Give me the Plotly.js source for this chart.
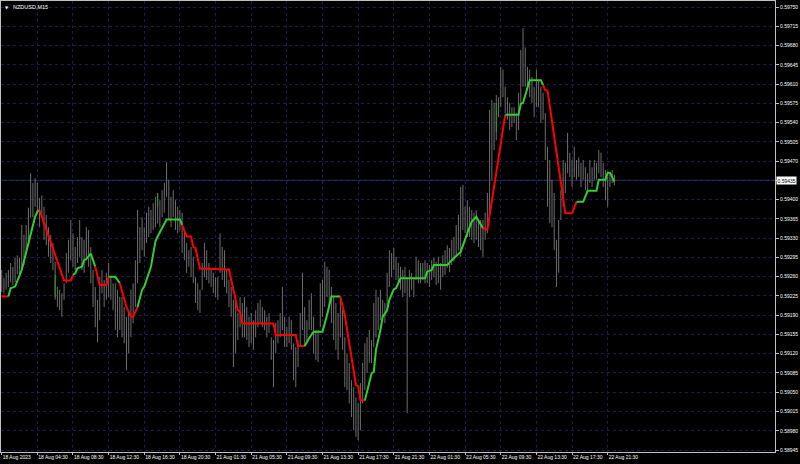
<!DOCTYPE html>
<html><head><meta charset="utf-8">
<script src="https://cdn.plot.ly/plotly-3.0.1.min.js"></script>
<style>html,body{margin:0;padding:0;background:#000;}#chart{width:800px;height:464px;}</style>
</head><body><div id="chart"></div>
<script>
const symbolTitle = "NZDUSD,M15";
const timeTickIdx = [0,16,32,48,64,80,96,112,128,144,160,176,192,208,224,240,256,272];
const timeTickText = ["18 Aug 2023","18 Aug 04:30","18 Aug 08:30","18 Aug 12:30","18 Aug 16:30","18 Aug 20:30","21 Aug 01:30","21 Aug 05:30","21 Aug 09:30","21 Aug 13:30","21 Aug 17:30","21 Aug 21:30","22 Aug 01:30","22 Aug 05:30","22 Aug 09:30","22 Aug 13:30","22 Aug 17:30","22 Aug 21:30"];
const priceTicks = [0.58945,0.58980,0.59015,0.59050,0.59085,0.59120,0.59155,0.59190,0.59225,0.59260,0.59295,0.59330,0.59365,0.59400,0.59435,0.59470,0.59505,0.59540,0.59575,0.59610,0.59645,0.59680,0.59715,0.59750];
const currentPrice = 0.59435;

// M15 bars, index 0..275: highs and lows
const barHigh = [
0.59272,0.59258,0.59267,0.59272,0.59285,0.59278,0.59294,0.59299,0.59294,0.59354,
0.59336,0.59354,0.59385,0.59448,0.59430,0.59439,0.59430,0.59403,0.59408,0.59387,
0.59372,0.59350,0.59336,0.59321,0.59287,0.59241,0.59236,0.59230,0.59248,0.59303,
0.59327,0.59363,0.59339,0.59314,0.59332,0.59363,0.59332,0.59327,0.59350,0.59345,
0.59314,0.59272,0.59241,0.59218,0.59259,0.59272,0.59254,0.59267,0.59285,0.59259,
0.59248,0.59248,0.59236,0.59223,0.59223,0.59205,0.59187,0.59199,0.59236,0.59248,
0.59290,0.59381,0.59350,0.59368,0.59350,0.59376,0.59387,0.59381,0.59394,0.59405,
0.59412,0.59399,0.59417,0.59430,0.59468,0.59436,0.59405,0.59417,0.59399,0.59387,
0.59381,0.59376,0.59345,0.59321,0.59308,0.59314,0.59296,0.59259,0.59248,0.59236,
0.59285,0.59321,0.59308,0.59285,0.59272,0.59267,0.59259,0.59259,0.59339,0.59314,
0.59308,0.59272,0.59254,0.59241,0.59218,0.59223,0.59194,0.59223,0.59212,0.59223,
0.59205,0.59187,0.59194,0.59181,0.59199,0.59212,0.59218,0.59205,0.59199,0.59187,
0.59194,0.59150,0.59145,0.59176,0.59181,0.59194,0.59241,0.59187,0.59168,0.59187,
0.59181,0.59139,0.59132,0.59145,0.59194,0.59267,0.59205,0.59181,0.59218,0.59230,
0.59187,0.59163,0.59163,0.59248,0.59254,0.59287,0.59278,0.59272,0.59241,0.59223,
0.59212,0.59194,0.59223,0.59199,0.59150,0.59121,0.59103,0.59072,0.59059,0.59041,
0.59030,0.59067,0.59103,0.59139,0.59150,0.59163,0.59145,0.59212,0.59236,0.59223,
0.59236,0.59218,0.59212,0.59267,0.59308,0.59303,0.59312,0.59296,0.59285,0.59278,
0.59272,0.59278,0.59259,0.59272,0.59267,0.59259,0.59296,0.59290,0.59285,0.59285,
0.59290,0.59285,0.59281,0.59290,0.59294,0.59287,0.59296,0.59285,0.59299,0.59308,
0.59317,0.59312,0.59327,0.59332,0.59354,0.59372,0.59423,0.59427,0.59387,0.59399,
0.59387,0.59381,0.59376,0.59381,0.59363,0.59363,0.59363,0.59376,0.59412,0.59563,
0.59581,0.59576,0.59590,0.59586,0.59641,0.59636,0.59605,0.59586,0.59576,0.59568,
0.59568,0.59557,0.59594,0.59672,0.59712,0.59677,0.59641,0.59636,0.59623,0.59605,
0.59636,0.59617,0.59605,0.59594,0.59557,0.59496,0.59472,0.59436,0.59412,0.59327,
0.59363,0.59417,0.59472,0.59467,0.59521,0.59485,0.59472,0.59496,0.59472,0.59477,
0.59467,0.59472,0.59459,0.59448,0.59472,0.59459,0.59472,0.59467,0.59490,0.59485,
0.59467,0.59454,0.59441,0.59448,0.59454,0.59445];
const barLow = [
0.59232,0.59230,0.59236,0.59241,0.59250,0.59245,0.59250,0.59265,0.59259,0.59272,
0.59281,0.59303,0.59327,0.59367,0.59368,0.59387,0.59376,0.59350,0.59368,0.59327,
0.59317,0.59296,0.59285,0.59272,0.59218,0.59205,0.59199,0.59187,0.59218,0.59248,
0.59267,0.59290,0.59278,0.59272,0.59285,0.59296,0.59272,0.59267,0.59290,0.59278,
0.59248,0.59205,0.59168,0.59141,0.59181,0.59230,0.59205,0.59218,0.59223,0.59218,
0.59199,0.59163,0.59150,0.59163,0.59150,0.59139,0.59090,0.59121,0.59150,0.59176,
0.59205,0.59248,0.59285,0.59308,0.59296,0.59321,0.59332,0.59339,0.59345,0.59350,
0.59357,0.59350,0.59368,0.59376,0.59405,0.59363,0.59350,0.59368,0.59345,0.59339,
0.59345,0.59303,0.59290,0.59267,0.59278,0.59259,0.59248,0.59212,0.59199,0.59194,
0.59236,0.59259,0.59254,0.59248,0.59241,0.59230,0.59223,0.59218,0.59267,0.59254,
0.59241,0.59230,0.59205,0.59187,0.59096,0.59121,0.59145,0.59168,0.59150,0.59150,
0.59145,0.59132,0.59139,0.59127,0.59150,0.59168,0.59176,0.59168,0.59163,0.59150,
0.59158,0.59109,0.59059,0.59121,0.59139,0.59150,0.59163,0.59132,0.59132,0.59139,
0.59127,0.59072,0.59059,0.59096,0.59132,0.59163,0.59132,0.59139,0.59163,0.59163,
0.59121,0.59109,0.59105,0.59168,0.59187,0.59205,0.59223,0.59205,0.59176,0.59145,
0.59127,0.59109,0.59150,0.59127,0.59059,0.59054,0.59030,0.59005,0.58981,0.58969,
0.58963,0.58981,0.59030,0.59054,0.59085,0.59103,0.59103,0.59132,0.59150,0.59163,
0.59181,0.59187,0.59176,0.59199,0.59241,0.59259,0.59272,0.59254,0.59248,0.59236,
0.59223,0.59230,0.59012,0.59223,0.59236,0.59223,0.59254,0.59248,0.59248,0.59254,
0.59248,0.59248,0.59241,0.59254,0.59259,0.59245,0.59248,0.59236,0.59259,0.59263,
0.59276,0.59268,0.59281,0.59287,0.59299,0.59308,0.59296,0.59345,0.59339,0.59332,
0.59332,0.59327,0.59321,0.59327,0.59314,0.59308,0.59296,0.59327,0.59339,0.59372,
0.59436,0.59490,0.59508,0.59550,0.59568,0.59586,0.59557,0.59545,0.59526,0.59532,
0.59539,0.59508,0.59526,0.59576,0.59605,0.59605,0.59599,0.59586,0.59576,0.59550,
0.59568,0.59568,0.59539,0.59545,0.59472,0.59387,0.59357,0.59350,0.59308,0.59241,
0.59267,0.59363,0.59387,0.59412,0.59448,0.59441,0.59423,0.59441,0.59436,0.59441,
0.59423,0.59436,0.59417,0.59412,0.59430,0.59423,0.59436,0.59436,0.59448,0.59441,
0.59423,0.59399,0.59387,0.59423,0.59430,0.59426];

// bars painted green by the chart
const greenBarIdx = [24,70,188,222];
const greenBarHigh = [0.59263,0.59412,0.59278,0.59576];
const greenBarLow = [0.59223,0.59387,0.59259,0.59523];

// indicator line vertices (bar index, price, colour of following segment)
const lineIdx = [0,3,4,6,7,9,15,16,17,28,31,32,33,34,36,37,38,40,42,44,47,48,51,53,56,58,59,61,63,64,67,69,70,74,80,81,83,85,86,87,89,102,106,107,108,122,123,132,133,136,137,138,140,144,146,148,152,154,159,160,161,163,164,166,167,168,170,171,173,174,176,177,179,190,191,193,194,200,202,206,209,211,213,216,218,226,232,233,234,237,242,243,244,245,252,253,256,258,261,263,267,268,271,272,273,275];
const linePrice = [0.59224,0.59224,0.59239,0.59242,0.59251,0.59272,0.59369,0.59378,0.59381,0.59253,0.59253,0.59263,0.59266,0.59275,0.59278,0.59290,0.59292,0.59302,0.59278,0.59245,0.59245,0.59260,0.59260,0.59248,0.59205,0.59187,0.59187,0.59205,0.59236,0.59242,0.59278,0.59324,0.59333,0.59364,0.59364,0.59354,0.59333,0.59333,0.59314,0.59312,0.59275,0.59273,0.59199,0.59196,0.59175,0.59175,0.59154,0.59154,0.59134,0.59134,0.59142,0.59148,0.59160,0.59160,0.59190,0.59224,0.59224,0.59190,0.59063,0.59061,0.59036,0.59035,0.59051,0.59084,0.59087,0.59127,0.59163,0.59187,0.59199,0.59218,0.59237,0.59239,0.59257,0.59257,0.59269,0.59272,0.59281,0.59281,0.59290,0.59305,0.59339,0.59360,0.59369,0.59348,0.59345,0.59554,0.59554,0.59574,0.59576,0.59617,0.59617,0.59608,0.59599,0.59598,0.59396,0.59375,0.59375,0.59396,0.59396,0.59416,0.59416,0.59436,0.59436,0.59449,0.59449,0.59433];
const lineSide = "rgggggggrrrgggggggrrrggrrrrggggggggrrrrrrrrrrrrrrgggggggrrrrrggggggggggggggggggggggrrggggggrrrrrrggggggggrr";

function barIndex(n){const a=[];for(let i=0;i<n;i++)a.push(i);return a;}
function lineTraces(){
  const out=[]; let cur=null;
  for(let k=0;k<lineIdx.length-1;k++){
    const c=lineSide[k];
    if(!cur||cur.c!==c){cur={c:c,x:[lineIdx[k]],y:[linePrice[k]]};out.push(cur);}
    cur.x.push(lineIdx[k+1]); cur.y.push(linePrice[k+1]);
  }
  return out.map(t=>({type:'scatter',mode:'lines',x:t.x,y:t.y,line:{color:t.c==='g'?'#32CD32':'#FF0000',width:2},hoverinfo:'skip',showlegend:false}));
}
const barsTrace={type:'bar',x:barIndex(barHigh.length),base:barLow,y:barHigh.map((h,i)=>h-barLow[i]),width:0.45,
  marker:{color:'#6e6e6e',line:{width:0}},hoverinfo:'skip',showlegend:false};
const greenTrace={type:'bar',x:greenBarIdx,base:greenBarLow,y:greenBarHigh.map((h,i)=>h-greenBarLow[i]),width:0.45,
  marker:{color:'#22a322',line:{width:0}},hoverinfo:'skip',showlegend:false};

const axisFont={family:'Liberation Sans, Arial, sans-serif',size:5,color:'#ffffff'};
const layout={
  width:800,height:464,margin:{l:1,r:25,t:1,b:12,pad:0},
  paper_bgcolor:'#000000',plot_bgcolor:'#000000',showlegend:false,barmode:'overlay',
  xaxis:{range:[-0.31,347.1],tickmode:'array',tickvals:timeTickIdx,ticktext:timeTickText,tickangle:0,
    showgrid:true,gridcolor:'#1b1b4c',griddash:'dot',gridwidth:1,zeroline:false,
    showline:true,linecolor:'#c0c0c0',linewidth:1,mirror:true,ticks:'outside',ticklen:2,tickcolor:'#c0c0c0',
    tickfont:axisFont,ticklabelposition:'outside right',fixedrange:true},
  yaxis:{side:'right',range:[0.589414,0.597609],tickmode:'array',tickvals:priceTicks,
    ticktext:priceTicks.map(v=>Math.abs(v-currentPrice)<1e-7?'':v.toFixed(5)),
    showgrid:true,gridcolor:'#1b1b4c',griddash:'dot',gridwidth:1,zeroline:false,
    showline:true,linecolor:'#c0c0c0',linewidth:1,mirror:true,ticks:'outside',ticklen:3,tickcolor:'#c0c0c0',
    tickfont:axisFont,fixedrange:true},
  shapes:[{type:'line',xref:'paper',x0:0,x1:1,yref:'y',y0:currentPrice,y1:currentPrice,line:{color:'#34346e',width:1},layer:'below'}],
  annotations:[
    {xref:'paper',yref:'paper',x:0,y:1,xshift:2,yshift:-2,xanchor:'left',yanchor:'top',text:'\u25BC',showarrow:false,font:{family:'DejaVu Sans',size:4,color:'#ffffff'}},
    {xref:'paper',yref:'paper',x:0,y:1,xshift:10,yshift:-1,xanchor:'left',yanchor:'top',text:symbolTitle,showarrow:false,font:{family:'Liberation Sans, Arial, sans-serif',size:5.5,color:'#ffffff'}},
    {xref:'paper',yref:'y',x:1,y:currentPrice,xshift:1,xanchor:'left',yanchor:'middle',text:currentPrice.toFixed(5),showarrow:false,bgcolor:'#ffffff',borderpad:0.5,font:{family:'Liberation Sans, Arial, sans-serif',size:5,color:'#000000'}}
  ]
};
Plotly.newPlot('chart',[barsTrace,greenTrace].concat(lineTraces()),layout,{staticPlot:true,displayModeBar:false});
</script></body></html>
